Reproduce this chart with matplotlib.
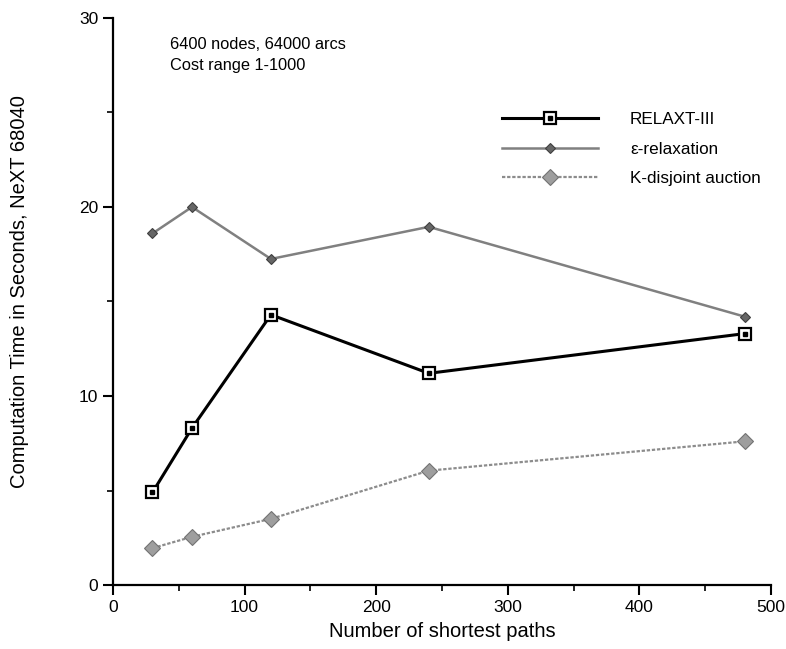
import matplotlib
matplotlib.use("Agg")
import matplotlib.pyplot as plt
from matplotlib.ticker import MultipleLocator
from matplotlib.legend_handler import HandlerTuple

plt.rcParams['font.family'] = ['Liberation Sans', 'DejaVu Sans']

# data
paths = [30, 60, 120, 240, 480]
relaxt = [4.9, 8.3, 14.3, 11.2, 13.3]
eps_relax = [18.6, 20.0, 17.25, 18.95, 14.2]
kdisjoint = [1.95, 2.55, 3.5, 6.05, 7.6]

fig = plt.figure(figsize=(7.86, 6.49), dpi=100)
ax = fig.add_axes([0.1438, 0.0986, 0.837, 0.8737])

# RELAXT-III: thick black line, open squares with a dot inside
l1, = ax.plot(paths, relaxt, color='black', lw=2.2, marker='s', ms=8,
              mfc='white', mec='black', mew=1.6, zorder=4)
d1, = ax.plot(paths, relaxt, ls='none', marker='s', ms=2.5, color='black', zorder=5)

# eps-relaxation: grey line, small diamonds
l2, = ax.plot(paths, eps_relax, color='0.5', lw=1.8, marker='D', ms=5.5,
              mfc='0.4', mec='0.25', mew=0.8, zorder=3)

# K-disjoint auction: light dotted line, checkered diamonds
l3, = ax.plot(paths, kdisjoint, color='0.55', lw=1.6, ls=(0, (1.5, 0.8)),
              marker='D', ms=8.5, mfc='0.62', mec='0.45', mew=0.8, zorder=3)

ax.legend([(l1, d1), l2, l3], ['RELAXT-III', 'ε-relaxation', 'K-disjoint auction'],
          handler_map={tuple: HandlerTuple(ndivide=1, pad=0)},
          loc='upper left', bbox_to_anchor=(0.591, 0.834), frameon=False,
          borderpad=0, borderaxespad=0,
          fontsize=12.3, handlelength=5.6, handletextpad=1.9, labelspacing=0.85)

ax.text(0.0866, 0.966, '6400 nodes, 64000 arcs\nCost range 1-1000',
        transform=ax.transAxes, fontsize=11.8, va='top', linespacing=1.45)

ax.set_xlim(0, 500)
ax.set_ylim(0, 30)
ax.xaxis.set_major_locator(MultipleLocator(100))
ax.xaxis.set_minor_locator(MultipleLocator(50))
ax.yaxis.set_major_locator(MultipleLocator(10))
ax.yaxis.set_minor_locator(MultipleLocator(5))
ax.tick_params(which='major', direction='out', length=7, width=1.5, labelsize=12.5)
ax.tick_params(which='minor', direction='out', length=4, width=1.2)
for s in ['top', 'right']:
    ax.spines[s].set_visible(False)
for s in ['left', 'bottom']:
    ax.spines[s].set_linewidth(1.6)

ax.set_xlabel('Number of shortest paths', fontsize=14.5)
ax.set_ylabel('Computation Time in Seconds, NeXT 68040', fontsize=14.5)
ax.xaxis.set_label_coords(0.5, -0.066)
ax.yaxis.set_label_coords(-0.128, 0.517)

fig.savefig('out.png', dpi=100)
